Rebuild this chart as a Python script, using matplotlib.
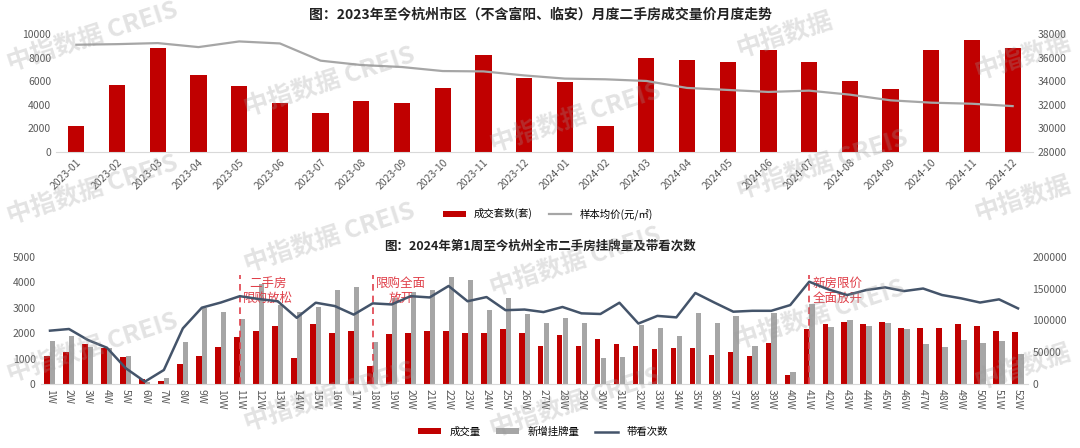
import matplotlib
matplotlib.use("Agg")
import matplotlib.pyplot as plt
import numpy as np

plt.rcParams['font.family'] = ['Noto Sans CJK SC', 'DejaVu Sans']
plt.rcParams['axes.unicode_minus'] = False

# ---- 上图：月度成交量价 ----
months = ['2023-01', '2023-02', '2023-03', '2023-04', '2023-05', '2023-06',
          '2023-07', '2023-08', '2023-09', '2023-10', '2023-11', '2023-12',
          '2024-01', '2024-02', '2024-03', '2024-04', '2024-05', '2024-06',
          '2024-07', '2024-08', '2024-09', '2024-10', '2024-11', '2024-12']
deals = [2200, 5690, 8830, 6490, 5630, 4140, 3310, 4340, 4170, 5400, 8200, 6310,
         5940, 2190, 7930, 7810, 7640, 8610, 7590, 6020, 5340, 8660, 9460, 8840]
avg_price = [37090, 37140, 37230, 36890, 37370, 37200, 35740, 35370, 35200, 34860, 34830, 34490,
             34220, 34160, 34020, 33430, 33260, 33090, 33200, 32860, 32380, 32180, 32090, 31890]

# ---- 下图：周度挂牌与带看 ----
weeks = [f'{i}W' for i in range(1, 53)]
week_deals = [1100, 1240, 1570, 1430, 1070, 180, 100, 790, 1090, 1470, 1860, 2070, 2280,
              1010, 2340, 2020, 2090, 710, 1960, 2020, 2080, 2080, 2000, 2000, 2150, 1990,
              1490, 1910, 1490, 1770, 1570, 1480, 1370, 1410, 1400, 1140, 1270, 1100, 1620,
              370, 2170, 2340, 2450, 2370, 2450, 2210, 2210, 2210, 2360, 2290, 2070, 2030]
new_listings = [1680, 1900, 1470, 1400, 1090, 90, 220, 1640, 2970, 2830, 2540, 3930, 3120,
                2840, 3040, 3690, 3820, 1660, 3360, 3630, 3690, 4190, 4080, 2900, 3360, 2750,
                2400, 2600, 2380, 1030, 1070, 2320, 2200, 1900, 2770, 2410, 2670, 1490, 2770,
                480, 3140, 2230, 2510, 2290, 2400, 2160, 1560, 1450, 1730, 1600, 1690, 1190]
viewings = [83800, 86400, 69100, 57000, 24600, 3700, 22000, 87400, 119900, 128000, 138000,
            133500, 130000, 104000, 127700, 122500, 109000, 126700, 125000, 138000, 136000,
            154000, 130000, 136600, 116000, 117000, 113000, 121000, 111000, 110000, 127700,
            95000, 107000, 104700, 143000, 128000, 113600, 115000, 115000, 124000, 160700,
            148700, 139800, 147600, 151800, 146000, 150000, 139800, 134600, 128000, 133000,
            118800]

# 政策节点：(周, 文本)
policy_weeks = ['11W', '18W', '41W']
policy_texts = ['二手房\n限购放松', '限购全面\n放开', '新房限价\n全面放开']

RED = '#C00000'
GREY = '#A6A6A6'
NAVY = '#44546A'
TICK = '#595959'
ANNO = '#E0404A'

fig = plt.figure(figsize=(10.8, 4.48), dpi=100)


def clean_axes(ax, twin):
    for s in ['top', 'left', 'right']:
        ax.spines[s].set_visible(False)
        twin.spines[s].set_visible(False)
    ax.spines['bottom'].set_color('#D9D9D9')
    twin.spines['bottom'].set_visible(False)
    ax.tick_params(axis='both', length=0, colors=TICK, labelsize=7.5)
    twin.tick_params(axis='both', length=0, colors=TICK, labelsize=7.5)


# 上图
ax1 = fig.add_axes([56 / 1080, 1 - 152 / 448, 977 / 1080, 118 / 448])
ax1b = ax1.twinx()
x1 = np.arange(len(months))
b1 = ax1.bar(x1, deals, width=0.4, color=RED, label='成交套数(套)')
l1, = ax1b.plot(x1, avg_price, color=GREY, lw=1.6, label='样本均价(元/㎡)')
ax1.set_xlim(-0.5, len(months) - 0.5)
ax1.set_ylim(0, 10000)
ax1.set_yticks(range(0, 10001, 2000))
ax1b.set_ylim(28000, 38000)
ax1b.set_yticks(range(28000, 38001, 2000))
ax1.set_xticks(x1)
ax1.set_xticklabels(months, rotation=45, ha='right', rotation_mode='anchor', fontsize=8)
clean_axes(ax1, ax1b)
fig.text(0.5, 1 - 14 / 448, '图：2023年至今杭州市区（不含富阳、临安）月度二手房成交量价月度走势',
         ha='center', va='center', fontsize=10, fontweight='bold', color='#222222')
fig.legend([b1, l1], ['成交套数(套)', '样本均价(元/㎡)'], loc='center',
           bbox_to_anchor=(548 / 1080, 1 - 214 / 448), ncol=2, frameon=False,
           fontsize=7.5, handlelength=2.2, handleheight=0.5, columnspacing=1.5)

# 下图
ax2 = fig.add_axes([40.5 / 1080, 1 - 384 / 448, 987 / 1080, 127.3 / 448])
ax2b = ax2.twinx()
x2 = np.arange(len(weeks))
b2 = ax2.bar(x2 - 0.15, week_deals, width=0.3, color=RED, label='成交量')
b3 = ax2.bar(x2 + 0.15, new_listings, width=0.28, color=GREY, label='新增挂牌量')
l2, = ax2b.plot(x2, viewings, color=NAVY, lw=1.8, label='带看次数')
ax2.set_xlim(-0.5, len(weeks) - 0.5)
ax2.set_ylim(0, 5000)
ax2.set_yticks(range(0, 5001, 1000))
ax2b.set_ylim(0, 200000)
ax2b.set_yticks(range(0, 200001, 50000))
ax2.set_xticks(x2)
ax2.set_xticklabels(weeks, rotation=-90, ha='center', va='top', fontsize=7.5)
clean_axes(ax2, ax2b)

for wk, txt in zip(policy_weeks, policy_texts):
    xi = weeks.index(wk)
    ax2.plot([xi, xi], [0, 4300], color=ANNO, lw=1.2, ls=(0, (4, 3)), zorder=5)
    ax2.text(xi + 1.5, 3650, txt, ha='center', va='center', fontsize=9,
             color=ANNO, linespacing=1.15, zorder=6)

fig.text(0.5, 1 - 246 / 448, '图：2024年第1周至今杭州全市二手房挂牌量及带看次数',
         ha='center', va='center', fontsize=9, fontweight='bold', color='#222222')
fig.legend([b2, b3, l2], ['成交量', '新增挂牌量', '带看次数'], loc='center',
           bbox_to_anchor=(543 / 1080, 1 - 432 / 448), ncol=3, frameon=False,
           fontsize=7.5, handlelength=2.2, handleheight=0.5, columnspacing=1.5)

# 水印（靠边的只露出“中指数据”）
wm_full = [(10, 72), (10, 225), (10, 383), (247, 117), (247, 273), (247, 432),
           (493, 153), (493, 297), (493, 438), (740, 200), (737, 350)]
wm_edge = [(740, 58), (978, 80), (978, 222), (978, 390)]
for px, py in wm_full:
    fig.text(px / 1080, 1 - py / 448, '中指数据 CREIS', fontsize=18, fontweight='bold',
             color='#9A9A9A', alpha=0.28, rotation=18, rotation_mode='anchor',
             ha='left', va='baseline', zorder=10)
for px, py in wm_edge:
    fig.text(px / 1080, 1 - py / 448, '中指数据', fontsize=18, fontweight='bold',
             color='#9A9A9A', alpha=0.28, rotation=18, rotation_mode='anchor',
             ha='left', va='baseline', zorder=10)

fig.savefig('out.png', dpi=100)
